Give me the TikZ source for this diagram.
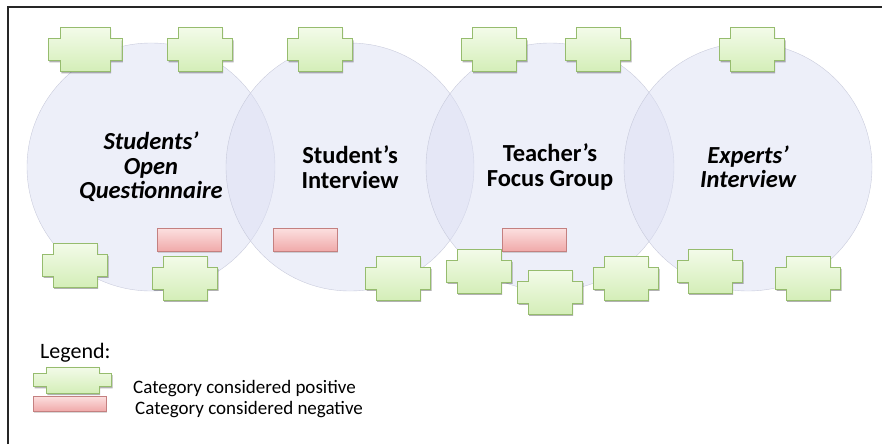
\documentclass[tikz,border=0pt]{standalone}
\usepackage{fontspec}
\setmainfont{Carlito}
\usetikzlibrary{shadows}

\definecolor{vennfill}{RGB}{220,223,243}
\definecolor{vennline}{RGB}{190,193,212}
\definecolor{postop}{RGB}{243,251,233}
\definecolor{posbot}{RGB}{212,238,184}
\definecolor{posline}{RGB}{150,188,110}
\definecolor{negtop}{RGB}{252,224,224}
\definecolor{negbot}{RGB}{240,170,170}
\definecolor{negline}{RGB}{196,128,128}

\tikzset{
  venn/.style={circle, draw=vennline, fill=vennfill, fill opacity=.5, draw opacity=.8,
    minimum size=248pt, inner sep=0pt},
  title/.style={align=center, font=\fontsize{24.5}{24.5}\selectfont\bfseries},
  titleit/.style={align=center, font=\fontsize{24.5}{24.5}\selectfont\bfseries\itshape},
  negbox/.style={rectangle, draw=negline, top color=negtop, bottom color=negbot,
    minimum width=64pt, minimum height=23pt, inner sep=0pt,
    drop shadow={shadow xshift=1pt, shadow yshift=-1.5pt, opacity=.3}},
  legtext/.style={anchor=base west, inner sep=0pt, font=\fontsize{19}{21}\selectfont},
  pos/.pic={
    \draw[posline, top color=postop, bottom color=posbot,
      preaction={fill=black, opacity=.3, transform canvas={shift={(1.2pt,-1.8pt)}}}]
      (-32.5,-11) -- (-22,-11) -- (-22,-22) -- (22,-22) -- (22,-11) -- (32.5,-11)
      -- (32.5,11) -- (22,11) -- (22,22) -- (-22,22) -- (-22,11) -- (-32.5,11) -- cycle;
  }
}

\begin{document}
\begin{tikzpicture}[x=1pt, y=-1pt]
  \useasboundingbox (0,0) rectangle (882,444);
  \draw[line width=1.3pt, black!85] (8,444) -- (8,7) -- (882,7);

  % the four data sources
  \node[venn] (soq) at (151,167) {};
  \node[venn] (sint) at (350,167) {};
  \node[venn] (tfg) at (550,167) {};
  \node[venn] (eint) at (748,167) {};

  \node[titleit] (soqtext) at (soq) {Students’\\Open\\Questionnaire};
  \node[title] (sinttext) at (sint) {Student’s\\Interview};
  \node[title] (tfgtext) at (tfg) {Teacher’s\\Focus Group};
  \node[titleit] (einttext) at (eint) {Experts’\\Interview};

  % negative categories
  \node[negbox] (neg1) at (189,239.5) {};
  \node[negbox] (neg2) at (305,239.5) {};
  \node[negbox] (neg3) at (534,239.5) {};

  % positive categories
  \pic[xscale=1.13] (pos1) at (85,49.5) {pos};
  \pic (pos2) at (200,49.5) {pos};
  \pic (pos3) at (320,49.5) {pos};
  \pic (pos4) at (494,49.5) {pos};
  \pic (pos5) at (598,49.5) {pos};
  \pic (pos6) at (752,49.5) {pos};
  \pic (pos7) at (75,265) {pos};
  \pic (pos8) at (185,278) {pos};
  \pic (pos9) at (398,278) {pos};
  \pic (pos10) at (479,271) {pos};
  \pic (pos11) at (550,292) {pos};
  \pic (pos12) at (626,278) {pos};
  \pic (pos13) at (710,271) {pos};
  \pic (pos14) at (808,278) {pos};

  % legend
  \node[legtext, font=\fontsize{22}{24}\selectfont] (legend) at (40,358) {Legend:};
  \pic[xscale=1.2, yscale=.6] (legpos) at (72.5,380) {pos};
  \node[legtext] (legpostext) at (133,393) {Category considered positive};
  \node[negbox, minimum width=73pt, minimum height=15pt] (legneg) at (69.5,403.5) {};
  \node[legtext] (legnegtext) at (135,414) {Category considered negative};
\end{tikzpicture}
\end{document}
